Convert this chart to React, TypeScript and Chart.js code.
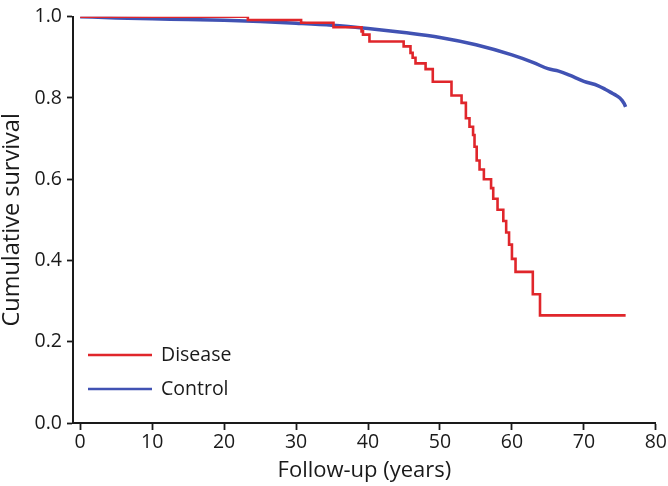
import { useEffect, useRef } from "react";
import { Chart, registerables } from "chart.js";

Chart.register(...registerables);

const FONT = "'Open Sans', sans-serif";
const INK = "#1a1a1a";
const RED = "#e0262b";
const BLUE = "#4152b3";

const X_TICKS = [0, 10, 20, 30, 40, 50, 60, 70, 80];
const Y_TICKS = [0, 0.2, 0.4, 0.6, 0.8, 1.0];

// Kaplan-Meier steps: time of event, survival after it
const diseaseYears = [
  0, 23.3, 30.7, 35.2, 39.1, 39.3, 40.2, 44.95, 45.9, 46.2, 46.6, 48.0, 49.0,
  51.6, 53.0, 53.6, 54.1, 54.6, 54.8, 55.1, 55.5, 56.1, 57.1, 57.4, 58.0, 58.8,
  59.2, 59.6, 60.0, 60.5, 62.9, 63.9, 75.8,
];
const diseaseSurvival = [
  1.0, 0.992, 0.985, 0.974, 0.964, 0.956, 0.939, 0.927, 0.911, 0.899, 0.885,
  0.871, 0.84, 0.806, 0.788, 0.75, 0.729, 0.709, 0.68, 0.646, 0.624, 0.6, 0.578,
  0.552, 0.525, 0.497, 0.469, 0.439, 0.404, 0.372, 0.317, 0.265, 0.265,
];

const controlYears = [
  0, 5, 10, 15, 20, 25, 30, 35, 40, 45, 50, 55, 60, 63, 65, 66.5, 68, 70, 72,
  73, 74, 74.5, 75, 75.3, 75.6, 75.8,
];
const controlSurvival = [
  1.0, 0.997, 0.995, 0.993, 0.991, 0.988, 0.984, 0.979, 0.971, 0.961, 0.949,
  0.931, 0.906, 0.887, 0.872, 0.866, 0.856, 0.841, 0.83, 0.821, 0.811, 0.806,
  0.8, 0.794, 0.786, 0.778,
];

const toPoints = (xs: number[], ys: number[]) =>
  xs.map((x, i) => ({ x, y: ys[i] }));

// legend drawn inside the plot, bottom left
const insideLegend = {
  id: "insideLegend",
  afterDatasetsDraw(chart: any) {
    const { ctx, chartArea } = chart;
    ctx.save();
    chart.data.datasets.forEach((ds: any, i: number) => {
      const y = chartArea.bottom - 68 + i * 34;
      ctx.strokeStyle = ds.borderColor;
      ctx.lineWidth = 2.5;
      ctx.beginPath();
      ctx.moveTo(chartArea.left + 15, y);
      ctx.lineTo(chartArea.left + 79, y);
      ctx.stroke();
      ctx.fillStyle = INK;
      ctx.font = `19.5px ${FONT}`;
      ctx.textBaseline = "middle";
      ctx.fillText(ds.label, chartArea.left + 88, y);
    });
    ctx.restore();
  },
};

export default function App() {
  const canvasRef = useRef<HTMLCanvasElement>(null);

  useEffect(() => {
    document.body.style.margin = "0";
    if (!canvasRef.current) return;
    const chart = new Chart(canvasRef.current, {
      type: "line",
      data: {
        datasets: [
          {
            label: "Disease",
            data: toPoints(diseaseYears, diseaseSurvival),
            borderColor: RED,
            borderWidth: 2.6,
            stepped: "before",
            pointRadius: 0,
            fill: false,
          },
          {
            label: "Control",
            data: toPoints(controlYears, controlSurvival),
            borderColor: BLUE,
            borderWidth: 3.5,
            cubicInterpolationMode: "monotone",
            pointRadius: 0,
            fill: false,
          },
        ],
      },
      options: {
        animation: false,
        responsive: false,
        devicePixelRatio: 1,
        layout: { padding: { top: 10, right: 12, left: 0, bottom: 0 } },
        plugins: { legend: { display: false }, tooltip: { enabled: false } },
        scales: {
          x: {
            type: "linear",
            min: -1,
            max: 80,
            afterBuildTicks: (axis: any) => {
              axis.ticks = X_TICKS.map((value) => ({ value }));
            },
            afterFit: (axis: any) => {
              axis.height = 63;
            },
            grid: { drawOnChartArea: false, tickLength: 7, tickColor: INK, tickWidth: 1.8 },
            border: { color: INK, width: 2 },
            ticks: { color: INK, font: { family: FONT, size: 19.5 }, padding: 1, maxRotation: 0 },
            title: {
              display: true,
              text: "Follow-up (years)",
              color: INK,
              font: { family: FONT, size: 22 },
              padding: { top: 0, bottom: 2 },
            },
          },
          y: {
            min: 0,
            max: 1,
            afterBuildTicks: (axis: any) => {
              axis.ticks = Y_TICKS.map((value) => ({ value }));
            },
            afterFit: (axis: any) => {
              axis.width = 73;
            },
            grid: { drawOnChartArea: false, tickLength: 6, tickColor: INK, tickWidth: 1.8 },
            border: { color: INK, width: 2 },
            ticks: {
              color: INK,
              font: { family: FONT, size: 19.5 },
              padding: 5,
              callback: (v: any) => Number(v).toFixed(1),
            },
            title: {
              display: true,
              text: "Cumulative survival",
              color: INK,
              font: { family: FONT, size: 23.5 },
              padding: { top: -2, bottom: 0 },
            },
          },
        },
      },
      plugins: [insideLegend],
    });
    return () => chart.destroy();
  }, []);

  return (
    <div style={{ width: 668, height: 486, background: "#fff" }}>
      <canvas
        ref={canvasRef}
        width={668}
        height={486}
        role="img"
        aria-label="Cumulative survival by follow-up years, disease vs control"
      />
    </div>
  );
}
